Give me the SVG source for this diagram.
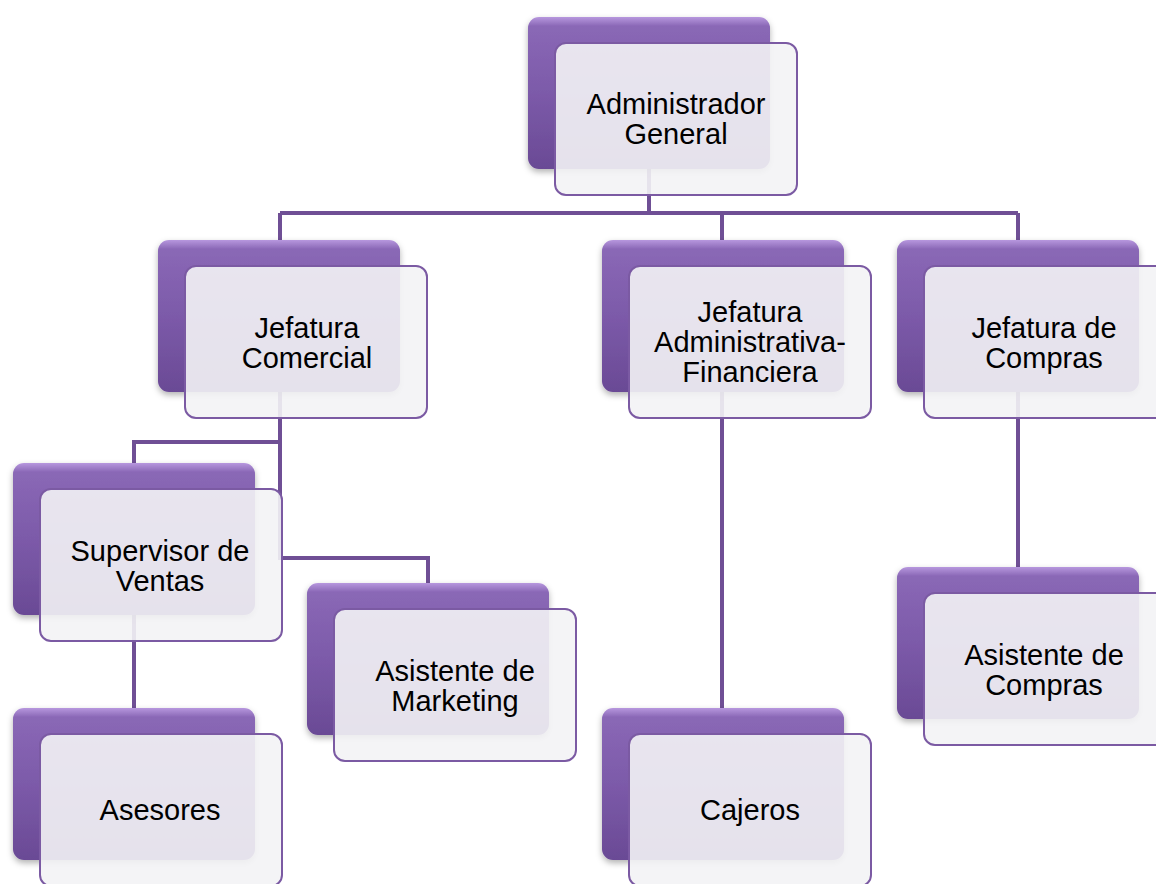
<svg xmlns="http://www.w3.org/2000/svg" width="1156" height="884" viewBox="0 0 1156 884">
<defs>
<linearGradient id="gBack" x1="0" y1="0" x2="0" y2="1">
<stop offset="0" stop-color="#b797de"/>
<stop offset="0.06" stop-color="#8a68b6"/>
<stop offset="0.5" stop-color="#7c5aa9"/>
<stop offset="1" stop-color="#6a4a95"/>
</linearGradient>
<filter id="sh" x="-10%" y="-10%" width="125%" height="125%">
<feDropShadow dx="0" dy="3" stdDeviation="3" flood-color="#000" flood-opacity="0.3"/>
</filter>
<g id="nodeShape">
<rect class="back" x="0" y="0" width="242" height="152" rx="11" ry="11"/>
<rect class="front" x="27" y="26" width="242" height="152" rx="11" ry="11"/>
</g>
</defs>
<style>
.back{fill:url(#gBack);filter:url(#sh);}
.front{fill:#f3f3f5;fill-opacity:0.9;stroke:#7b5aa3;stroke-width:2;}
.conn{fill:none;stroke:#6f4f95;stroke-width:4;}
text{font-family:"Liberation Sans",Arial,sans-serif;font-size:29px;fill:#000;text-anchor:middle;}
</style>
<rect width="1156" height="884" fill="#fff"/>
<g id="connectors">
<path class="conn" d="M649,168 V213 M280,213 H1018 M280,213 V240 M722,213 V240 M1018,213 V240"/>
<path class="conn" d="M280,392 V558 H428 V583 M280,442 H134 V463"/>
<path class="conn" d="M134,615 V708"/>
<path class="conn" d="M722,392 V708"/>
<path class="conn" d="M1018,392 V567"/>
</g>
<g id="admin" transform="translate(528,17)"><use href="#nodeShape"/><text x="148" y="97">Administrador<tspan x="148" dy="30">General</tspan></text></g>
<g id="comercial" transform="translate(158,240)"><use href="#nodeShape"/><text x="149" y="98">Jefatura<tspan x="149" dy="30">Comercial</tspan></text></g>
<g id="adminfin" transform="translate(602,240)"><use href="#nodeShape"/><text x="148" y="82">Jefatura<tspan x="148" dy="30">Administrativa-</tspan><tspan x="148" dy="30">Financiera</tspan></text></g>
<g id="compras" transform="translate(897,240)"><use href="#nodeShape"/><text x="147" y="98">Jefatura de<tspan x="147" dy="30">Compras</tspan></text></g>
<g id="supervisor" transform="translate(13,463)"><use href="#nodeShape"/><text x="147" y="98">Supervisor de<tspan x="147" dy="30">Ventas</tspan></text></g>
<g id="marketing" transform="translate(307,583)"><use href="#nodeShape"/><text x="148" y="98">Asistente de<tspan x="148" dy="30">Marketing</tspan></text></g>
<g id="asesores" transform="translate(13,708)"><use href="#nodeShape"/><text x="147" y="112">Asesores</text></g>
<g id="cajeros" transform="translate(602,708)"><use href="#nodeShape"/><text x="148" y="112">Cajeros</text></g>
<g id="asistcompras" transform="translate(897,567)"><use href="#nodeShape"/><text x="147" y="98">Asistente de<tspan x="147" dy="30">Compras</tspan></text></g>
</svg>
